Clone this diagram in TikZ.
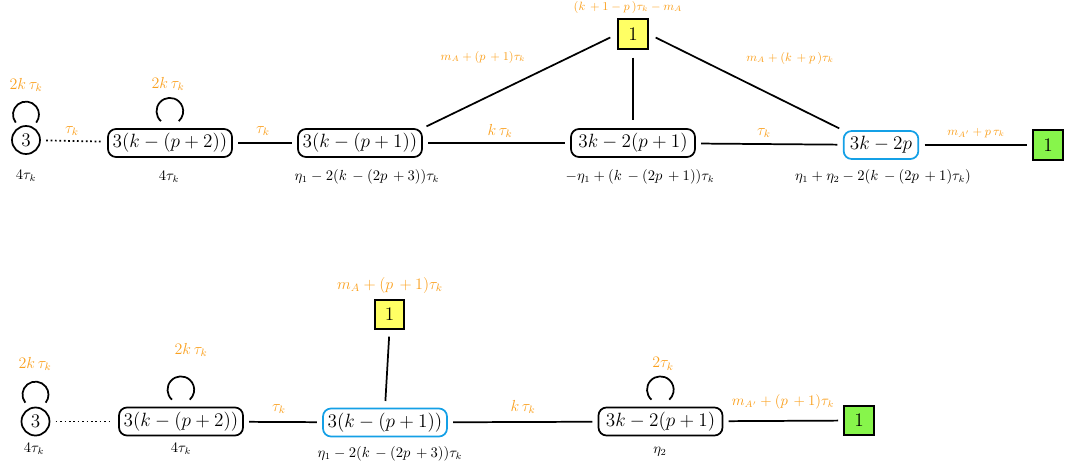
\documentclass[tikz,border=0pt]{standalone}
\definecolor{orng}{RGB}{250,160,30}
\definecolor{bluec}{RGB}{20,160,230}
\definecolor{yel}{RGB}{255,255,100}
\definecolor{grn}{RGB}{135,245,75}
\tikzset{
  box/.style={draw, rounded corners=6pt, line width=1.3pt, minimum height=21pt, inner sep=1pt, font=\fontsize{13.5}{16}\selectfont},
  bluebox/.style={box, draw=bluec},
  circ/.style={draw, circle, line width=1.3pt, minimum size=21pt, inner sep=0pt, font=\fontsize{14}{16}\selectfont},
  sq/.style={draw, line width=1.3pt, minimum size=22pt, inner sep=0pt, font=\fontsize{14}{16}\selectfont},
  ysq/.style={sq, fill=yel},
  gsq/.style={sq, fill=grn},
  edge/.style={line width=1.3pt, shorten <=4pt, shorten >=4pt},
  dotedge/.style={edge, dotted},
  loopl/.style={line width=1.3pt},
  olbl/.style={text=orng, inner sep=0pt, font=\fontsize{12}{14}\selectfont},
  oslbl/.style={text=orng, inner sep=0pt, font=\fontsize{8.8}{10}\selectfont},
  omlbl/.style={text=orng, inner sep=0pt, font=\fontsize{10.7}{12}\selectfont},
  blbl/.style={inner sep=0pt, font=\fontsize{10.5}{12}\selectfont},
}
\begin{document}
\begin{tikzpicture}[x=0.75pt,y=-0.75pt]
\useasboundingbox (0,0) rectangle (1067,471);
% ---------- top row ----------
\node[circ] (c1) at (26,140) {$3$};
\node[box, minimum width=93pt] (b1) at (170,143) {$3(k-(p+2))$};
\node[box, minimum width=93pt] (b2) at (360,143) {$3(k-(p+1))$};
\node[box, minimum width=93pt] (b3) at (633,143) {$3k-2(p+1)$};
\node[bluebox, minimum width=56pt] (b4) at (881,145) {$3k-2p$};
\node[gsq] (g1) at (1048,145) {$1$};
\node[ysq] (y1) at (633,34) {$1$};

\draw[dotedge] (c1) -- (b1);
\draw[edge] (b1) -- (b2);
\draw[edge] (b2) -- (b3);
\draw[edge] (b3) -- (b4);
\draw[edge] (b4) -- (g1);
\draw[edge, shorten <=6pt, shorten >=3pt] (y1.west) -- (b2.north east);
\draw[edge, shorten <=6pt, shorten >=6pt] (y1.south) -- (b3.north);
\draw[edge, shorten <=6pt, shorten >=3pt] (y1.east) -- (b4.north west);

\draw[loopl] ([shift={(-7.7pt,1.9pt)}]c1.north) arc[start angle=218, end angle=-38, radius=9.75pt];
\draw[loopl] ([shift={(-6.8pt,5.25pt)}]b1.north) arc[start angle=228, end angle=-48, radius=10pt];

\node[olbl] (l1) at (26,85) {$2k\,\tau_k$};
\node[olbl] (l2) at (168,84) {$2k\,\tau_k$};
\node[olbl] (l3) at (72,131) {$\tau_k$};
\node[olbl] (l4) at (263,131) {$\tau_k$};
\node[olbl] (l5) at (500,131) {$k\,\tau_k$};
\node[olbl] (l6) at (764,133) {$\tau_k$};
\node[oslbl] (l7) at (483,57) {$m_A + (p\,+1)\tau_k$};
\node[oslbl] (l8) at (628,7.5) {$(k\,+1-p\,)\tau_k - m_A$};
\node[oslbl] (l9) at (790,58) {$m_A + (k\,+p\,)\tau_k$};
\node[oslbl] (l10) at (976,133) {$m_{A'} + p\,\tau_k$};

\node[blbl] (w1) at (26,176) {$4\tau_k$};
\node[blbl] (w2) at (169,177) {$4\tau_k$};
\node[blbl] (w3) at (367,177) {$\eta_1 - 2(k\,-(2p\,+3))\tau_k$};
\node[blbl] (w4) at (640,177) {$-\eta_1 + (k\,-(2p\,+1))\tau_k$};
\node[blbl] (w5) at (883,177) {$\eta_1 + \eta_2 - 2(k\,-(2p\,+1)\tau_k)$};

% ---------- bottom row ----------
\node[circ] (c2) at (35.5,421.5) {$3$};
\node[box, minimum width=93pt] (b5) at (181,421.5) {$3(k-(p+2))$};
\node[bluebox, minimum width=93pt] (b6) at (385,422.5) {$3(k-(p+1))$};
\node[box, minimum width=93pt] (b7) at (660.5,421.5) {$3k-2(p+1)$};
\node[gsq] (g2) at (859,420.5) {$1$};
\node[ysq] (y2) at (389.5,314.5) {$1$};

\draw[dotedge] (c2) -- (b5);
\draw[edge] (b5) -- (b6);
\draw[edge] (b6) -- (b7);
\draw[edge] (b7) -- (g2);
\draw[edge, shorten <=5pt, shorten >=5pt] (y2.south) -- (b6.north);

\draw[loopl] ([shift={(-7.7pt,3pt)}]c2.north) arc[start angle=218, end angle=-38, radius=9.75pt];
\draw[loopl] ([shift={(-6.8pt,5.25pt)}]b5.north) arc[start angle=228, end angle=-48, radius=10pt];
\draw[loopl] ([shift={(-6.8pt,5.25pt)}]b7.north) arc[start angle=228, end angle=-48, radius=10pt];

\node[olbl] (m1) at (35,364) {$2k\,\tau_k$};
\node[olbl] (m2) at (191,350) {$2k\,\tau_k$};
\node[olbl] (m3) at (279,409) {$\tau_k$};
\node[olbl] (m4) at (523,407) {$k\,\tau_k$};
\node[olbl] (m5) at (663,364) {$2\tau_k$};
\node[olbl] (m6) at (390,285) {$m_A + (p\,+1)\tau_k$};
\node[omlbl] (m7) at (783,402) {$m_{A'} + (p\,+1)\tau_k$};

\node[blbl] (v1) at (34,449) {$4\tau_k$};
\node[blbl] (v2) at (181,449) {$4\tau_k$};
\node[blbl] (v3) at (390,454) {$\eta_1 - 2(k\,-(2p\,+3))\tau_k$};
\node[blbl] (v4) at (660,452) {$\eta_2$};
\end{tikzpicture}
\end{document}
